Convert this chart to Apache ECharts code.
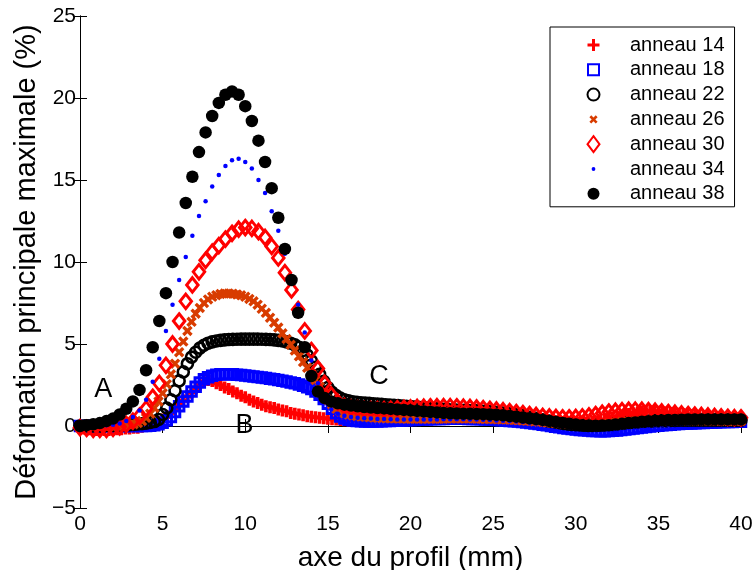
<!DOCTYPE html>
<html>
<head>
<meta charset="utf-8">
<script src="https://cdn.jsdelivr.net/npm/echarts@6/dist/echarts.min.js"></script>
<style>
html,body{margin:0;padding:0;background:#fff;}
#chart{width:756px;height:570px;}
</style>
</head>
<body>
<div id="chart"></div>
<script>
// ---------- DATA ----------
const seriesNames = ['anneau 14','anneau 18','anneau 22','anneau 26','anneau 30','anneau 34','anneau 38'];
const stepFine = 0.25;   // mm between nodes for rings 14,18,22,26
const stepCoarse = 0.4;  // mm between nodes for rings 30,34,38

const s14 = [
-0.1,-0.15,-0.2,-0.2,-0.25,-0.25,-0.25,-0.25,
-0.2,-0.2,-0.2,-0.15,-0.15,-0.1,-0.1,-0.05,
0.0,0.05,0.15,0.25,0.4,0.6,0.8,1.05,
1.3,1.55,1.8,2.05,2.3,2.5,2.7,2.8,
2.75,2.6,2.5,2.35,2.25,2.1,2.0,1.85,
1.75,1.6,1.5,1.4,1.3,1.2,1.15,1.1,
1.0,0.95,0.9,0.8,0.75,0.7,0.65,0.6,
0.57,0.53,0.5,0.47,0.44,0.41,0.39,0.37,
0.35,0.34,0.34,0.35,0.36,0.38,0.4,0.42,
0.44,0.46,0.48,0.5,0.52,0.54,0.55,0.56,
0.57,0.58,0.59,0.6,0.61,0.62,0.63,0.64,
0.65,0.65,0.66,0.66,0.66,0.66,0.66,0.65,
0.65,0.64,0.63,0.62,0.61,0.6,0.58,0.57,
0.55,0.53,0.51,0.49,0.47,0.44,0.41,0.38,
0.35,0.32,0.29,0.26,0.24,0.22,0.2,0.19,
0.18,0.18,0.19,0.21,0.24,0.28,0.33,0.38,
0.44,0.5,0.56,0.62,0.68,0.73,0.78,0.82,
0.85,0.87,0.88,0.88,0.87,0.85,0.83,0.8,
0.77,0.74,0.71,0.68,0.65,0.62,0.6,0.58,
0.56,0.54,0.52,0.5,0.48,0.46,0.44,0.42,
0.4];

const s18 = [
0,0,0,0,0,0,0,0,
0,0,0,0,0,0,0,0,
0.0,0.02,0.05,0.1,0.2,0.35,0.55,0.85,
1.2,1.5,1.8,2.1,2.4,2.65,2.85,2.98,
3.07,3.12,3.15,3.16,3.16,3.15,3.13,3.11,
3.08,3.05,3.02,2.99,2.95,2.92,2.88,2.85,
2.8,2.76,2.71,2.66,2.6,2.53,2.45,2.36,
2.25,2.1,1.9,1.65,1.35,1.05,0.78,0.58,
0.45,0.38,0.33,0.3,0.29,0.28,0.28,0.28,
0.28,0.29,0.3,0.31,0.32,0.33,0.34,0.35,
0.36,0.37,0.38,0.39,0.4,0.41,0.42,0.43,
0.43,0.44,0.44,0.44,0.44,0.44,0.43,0.43,
0.42,0.41,0.4,0.39,0.38,0.37,0.35,0.33,
0.31,0.29,0.27,0.25,0.22,0.19,0.16,0.12,
0.08,0.04,0.0,-0.04,-0.08,-0.12,-0.15,-0.18,
-0.21,-0.24,-0.26,-0.28,-0.3,-0.31,-0.32,-0.32,
-0.31,-0.29,-0.27,-0.24,-0.21,-0.18,-0.15,-0.12,
-0.09,-0.06,-0.03,0.0,0.02,0.04,0.06,0.08,
0.1,0.12,0.13,0.15,0.16,0.17,0.18,0.19,
0.2,0.21,0.22,0.23,0.24,0.25,0.25,0.26,
0.26];

const s22 = [
0.0,0.0,0.0,0.0,0.0,0.0,0.02,0.03,
0.04,0.05,0.06,0.07,0.08,0.1,0.12,0.14,
0.17,0.21,0.27,0.4,0.7,1.1,1.6,2.15,
2.75,3.3,3.8,4.2,4.5,4.75,4.92,5.05,
5.13,5.18,5.22,5.25,5.27,5.28,5.29,5.3,
5.3,5.3,5.3,5.3,5.29,5.28,5.27,5.25,
5.22,5.18,5.13,5.05,4.95,4.8,4.6,4.33,
3.98,3.58,3.15,2.72,2.35,2.05,1.85,1.7,
1.6,1.53,1.48,1.45,1.42,1.4,1.38,1.36,
1.34,1.32,1.3,1.28,1.26,1.24,1.22,1.2,
1.18,1.16,1.14,1.12,1.1,1.08,1.06,1.04,
1.02,1.0,0.98,0.97,0.96,0.95,0.94,0.93,
0.92,0.91,0.9,0.88,0.86,0.84,0.81,0.78,
0.75,0.71,0.67,0.63,0.58,0.53,0.48,0.43,
0.38,0.33,0.28,0.24,0.2,0.16,0.13,0.1,
0.08,0.06,0.05,0.04,0.04,0.04,0.05,0.06,
0.08,0.1,0.12,0.15,0.18,0.2,0.23,0.25,
0.27,0.29,0.3,0.31,0.32,0.33,0.33,0.34,
0.34,0.35,0.35,0.35,0.36,0.36,0.36,0.36,
0.36,0.36,0.36,0.36,0.36,0.36,0.36,0.36,
0.36];

const s26 = [
0,0,0,0,0,0,0,0,
0.0,0.0,0.02,0.04,0.07,0.11,0.18,0.3,
0.5,0.75,1.1,1.5,2.0,2.55,3.15,3.8,
4.5,5.15,5.8,6.35,6.85,7.2,7.5,7.72,
7.88,7.98,8.05,8.08,8.08,8.06,8.02,7.97,
7.88,7.75,7.6,7.4,7.15,6.9,6.6,6.3,
6.0,5.65,5.3,4.95,4.6,4.25,3.9,3.55,
3.2,2.8,2.4,2.0,1.6,1.3,1.05,0.9,
0.78,0.7,0.65,0.61,0.58,0.56,0.54,0.52,
0.5,0.49,0.48,0.47,0.46,0.45,0.45,0.44,
0.44,0.44,0.44,0.44,0.44,0.44,0.44,0.44,
0.44,0.45,0.45,0.45,0.45,0.45,0.45,0.45,
0.44,0.44,0.43,0.43,0.42,0.41,0.4,0.39,
0.38,0.37,0.35,0.34,0.32,0.3,0.28,0.26,
0.24,0.22,0.2,0.18,0.16,0.14,0.13,0.12,
0.11,0.11,0.11,0.12,0.13,0.15,0.17,0.19,
0.21,0.23,0.25,0.27,0.29,0.3,0.31,0.32,
0.33,0.34,0.34,0.35,0.35,0.35,0.35,0.35,
0.35,0.35,0.35,0.35,0.34,0.34,0.34,0.33,
0.33,0.33,0.32,0.32,0.32,0.31,0.31,0.3,
0.3];

const s30 = [
-0.1,-0.15,-0.2,-0.2,-0.2,-0.15,-0.05,0.1,0.3,0.6,
1.05,1.75,2.6,3.7,5.0,6.4,7.6,8.6,9.4,10.1,
10.6,11.0,11.4,11.75,12.0,12.1,12.05,11.85,11.5,10.95,
10.25,9.35,8.3,7.1,5.8,4.6,3.5,2.6,1.9,1.45,
1.2,1.1,1.05,1.0,1.0,1.0,1.0,1.02,1.05,1.08,
1.1,1.13,1.15,1.17,1.18,1.18,1.18,1.17,1.15,1.13,
1.1,1.06,1.02,0.98,0.93,0.88,0.82,0.76,0.7,0.64,
0.59,0.55,0.52,0.5,0.5,0.52,0.56,0.62,0.7,0.78,
0.85,0.9,0.94,0.96,0.97,0.96,0.94,0.9,0.86,0.82,
0.78,0.74,0.7,0.67,0.64,0.61,0.58,0.55,0.53,0.51,
0.5];

const s34 = [
0.0,0.0,0.0,0.02,0.04,0.08,0.15,0.3,0.55,0.95,
1.6,2.7,4.1,5.8,7.4,8.9,10.3,11.6,12.8,13.7,
14.6,15.3,15.85,16.2,16.3,16.1,15.7,15.0,14.2,13.1,
11.9,10.5,9.0,7.4,5.7,4.0,2.6,1.6,1.0,0.75,
0.62,0.55,0.5,0.47,0.45,0.43,0.42,0.41,0.4,0.4,
0.4,0.4,0.4,0.4,0.4,0.41,0.41,0.41,0.41,0.4,
0.39,0.38,0.36,0.34,0.32,0.3,0.27,0.24,0.2,0.16,
0.12,0.07,0.02,-0.03,-0.08,-0.12,-0.16,-0.19,-0.21,-0.22,
-0.22,-0.2,-0.17,-0.13,-0.09,-0.05,-0.01,0.03,0.06,0.09,
0.12,0.14,0.16,0.18,0.19,0.2,0.21,0.22,0.23,0.24,
0.25];

const s38 = [
0.0,0.05,0.1,0.18,0.3,0.45,0.7,1.05,1.5,2.2,
3.4,4.8,6.4,8.1,10.0,11.8,13.6,15.2,16.7,17.9,
18.9,19.7,20.2,20.4,20.2,19.5,18.6,17.4,16.1,14.5,
12.7,10.8,8.9,6.9,4.8,3.05,2.1,1.7,1.5,1.38,
1.3,1.25,1.2,1.16,1.13,1.1,1.07,1.04,1.01,0.98,
0.95,0.92,0.89,0.86,0.83,0.8,0.78,0.76,0.75,0.74,
0.73,0.72,0.7,0.68,0.65,0.61,0.57,0.52,0.47,0.42,
0.37,0.31,0.25,0.19,0.14,0.09,0.05,0.03,0.02,0.03,
0.05,0.09,0.13,0.18,0.22,0.26,0.29,0.32,0.34,0.36,
0.37,0.38,0.39,0.39,0.4,0.4,0.4,0.4,0.4,0.4,
0.4];

const annotText = ['A','B','C'];
const annotX = [1.4, 9.95, 18.1];
const annotY = [2.2, 0.05, 3.0];

const xTicks = {min: 0, max: 40, interval: 5};
const yTicks = {min: -5, max: 25, interval: 5};
const xTitle = 'axe du profil (mm)';
const yTitle = 'Déformation principale maximale (%)';

// ---------- BUILD ----------
function pairs(arr, step){ return arr.map((v,i)=>[+(i*step).toFixed(2), v]); }

const FONT = "'Liberation Sans', Arial, Helvetica, sans-serif";
const plusPath = 'path://M3.5,0H6.5V3.5H10V6.5H6.5V10H3.5V6.5H0V3.5H3.5Z';
const xPath = 'path://M8.5,6.66L10.76,4.4L12.6,6.24L10.34,8.5L12.6,10.76L10.76,12.6L8.5,10.34L6.24,12.6L4.4,10.76L6.66,8.5L4.4,6.24L6.24,4.4Z';
const PAD = 'M0,0M17,17';
const legendIcons = [
  'path://'+PAD+'M7,2.5H10V7H14.5V10H10V14.5H7V10H2.5V7H7Z',
  'path://'+PAD+'M3,3H14V14H3Z',
  'path://'+PAD+'M2.5,8.5A6,6,0,1,1,14.5,8.5A6,6,0,1,1,2.5,8.5Z',
  'path://'+PAD+'M8.5,6.66L10.76,4.4L12.6,6.24L10.34,8.5L12.6,10.76L10.76,12.6L8.5,10.34L6.24,12.6L4.4,10.76L6.66,8.5L4.4,6.24L6.24,4.4Z',
  'path://'+PAD+'M8.5,0.5L14.5,8.5L8.5,16.5L2.5,8.5Z',
  'path://'+PAD+'M6.6,8.5A1.9,1.9,0,1,1,10.4,8.5A1.9,1.9,0,1,1,6.6,8.5Z',
  'path://'+PAD+'M2.5,8.5A6,6,0,1,1,14.5,8.5A6,6,0,1,1,2.5,8.5Z'
];

const NONE = 'rgba(0,0,0,0)';
const styles = [
  {symbol: plusPath, symbolSize: 12, itemStyle: {color: '#ff0000', opacity: 1}},
  {symbol: 'rect', symbolSize: 9.5, itemStyle: {color: NONE, borderColor: '#0000ff', borderWidth: 3, opacity: 1}},
  {symbol: 'circle', symbolSize: 11, itemStyle: {color: NONE, borderColor: '#000000', borderWidth: 2.6, opacity: 1}},
  {symbol: xPath, symbolSize: 10.5, itemStyle: {color: '#d83c00', opacity: 1}},
  {symbol: 'diamond', symbolSize: [11.5, 14.5], itemStyle: {color: NONE, borderColor: '#ff0000', borderWidth: 3, opacity: 1}},
  {symbol: 'circle', symbolSize: 4.5, itemStyle: {color: '#0000ff', opacity: 1}},
  {symbol: 'circle', symbolSize: 12.5, itemStyle: {color: '#000000', opacity: 1}}
];
const dataSets = [pairs(s14,stepFine), pairs(s18,stepFine), pairs(s22,stepFine), pairs(s26,stepFine),
                  pairs(s30,stepCoarse), pairs(s34,stepCoarse), pairs(s38,stepCoarse)];

const series = seriesNames.map((name,i)=>Object.assign({
  name: name, type: 'scatter', data: dataSets[i], clip: false,
  xAxisIndex: 0, yAxisIndex: 0, silent: true
}, styles[i]));

series.push({
  name: 'annotations', type: 'scatter', symbolSize: 0, silent: true, clip: false,
  itemStyle: {opacity: 1},
  data: annotText.map((t,i)=>({value:[annotX[i], annotY[i]], label:{formatter: t}})),
  label: {show: true, position: 'inside', color: '#000', fontSize: 27, fontFamily: FONT},
  z: 5
});

const axisLine = {show: true, lineStyle: {color: '#000', width: 1}};
const tick = {show: true, inside: true, length: 7, lineStyle: {color: '#000', width: 1}};
const minus = v => (v < 0 ? '\u2212' + Math.abs(v) : String(v));

const option = {
  animation: false,
  backgroundColor: '#fff',
  textStyle: {fontFamily: FONT},
  grid: {left: 80, right: 15, top: 16, bottom: 62, show: false, containLabel: false, outerBoundsMode: 'none'},
  legend: {
    data: seriesNames.map((n,i)=>({name: n, icon: legendIcons[i]})),
    orient: 'vertical', left: 550, top: 27,
    itemWidth: 17, itemHeight: 17, itemGap: 4.8,
    padding: [8, 10, 3, 34],
    backgroundColor: '#fff', borderColor: '#000', borderWidth: 1, borderRadius: 0,
    textStyle: {fontSize: 20, color: '#000', fontFamily: FONT, padding: [0, 0, 0, 23]},
    selectedMode: false
  },
  xAxis: [
    {type: 'value', position: 'bottom', min: xTicks.min, max: xTicks.max, interval: xTicks.interval,
     axisLine: axisLine, axisTick: tick, splitLine: {show: false},
     axisLabel: {color: '#000', fontSize: 21, margin: 6, fontFamily: FONT},
     name: xTitle, nameLocation: 'middle', nameGap: 36,
     nameTextStyle: {fontSize: 28, color: '#000', fontFamily: FONT}},
    {type: 'value', position: 'top', min: xTicks.min, max: xTicks.max, interval: xTicks.interval,
     axisLine: axisLine, axisTick: tick, splitLine: {show: false}, axisLabel: {show: false}}
  ],
  yAxis: [
    {type: 'value', position: 'left', min: yTicks.min, max: yTicks.max, interval: yTicks.interval,
     axisLine: axisLine, axisTick: tick, splitLine: {show: false},
     axisLabel: {color: '#000', fontSize: 21, margin: 4, formatter: minus, fontFamily: FONT},
     name: yTitle, nameLocation: 'middle', nameGap: 25, nameRotate: 90,
     nameTextStyle: {fontSize: 29, color: '#000', fontFamily: FONT}},
    {type: 'value', position: 'right', min: yTicks.min, max: yTicks.max, interval: yTicks.interval,
     axisLine: axisLine, axisTick: tick, splitLine: {show: false}, axisLabel: {show: false}}
  ],
  series: series
};

const chart = echarts.init(document.getElementById('chart'), null, {renderer: 'canvas'});
chart.setOption(option);
</script>
</body>
</html>
